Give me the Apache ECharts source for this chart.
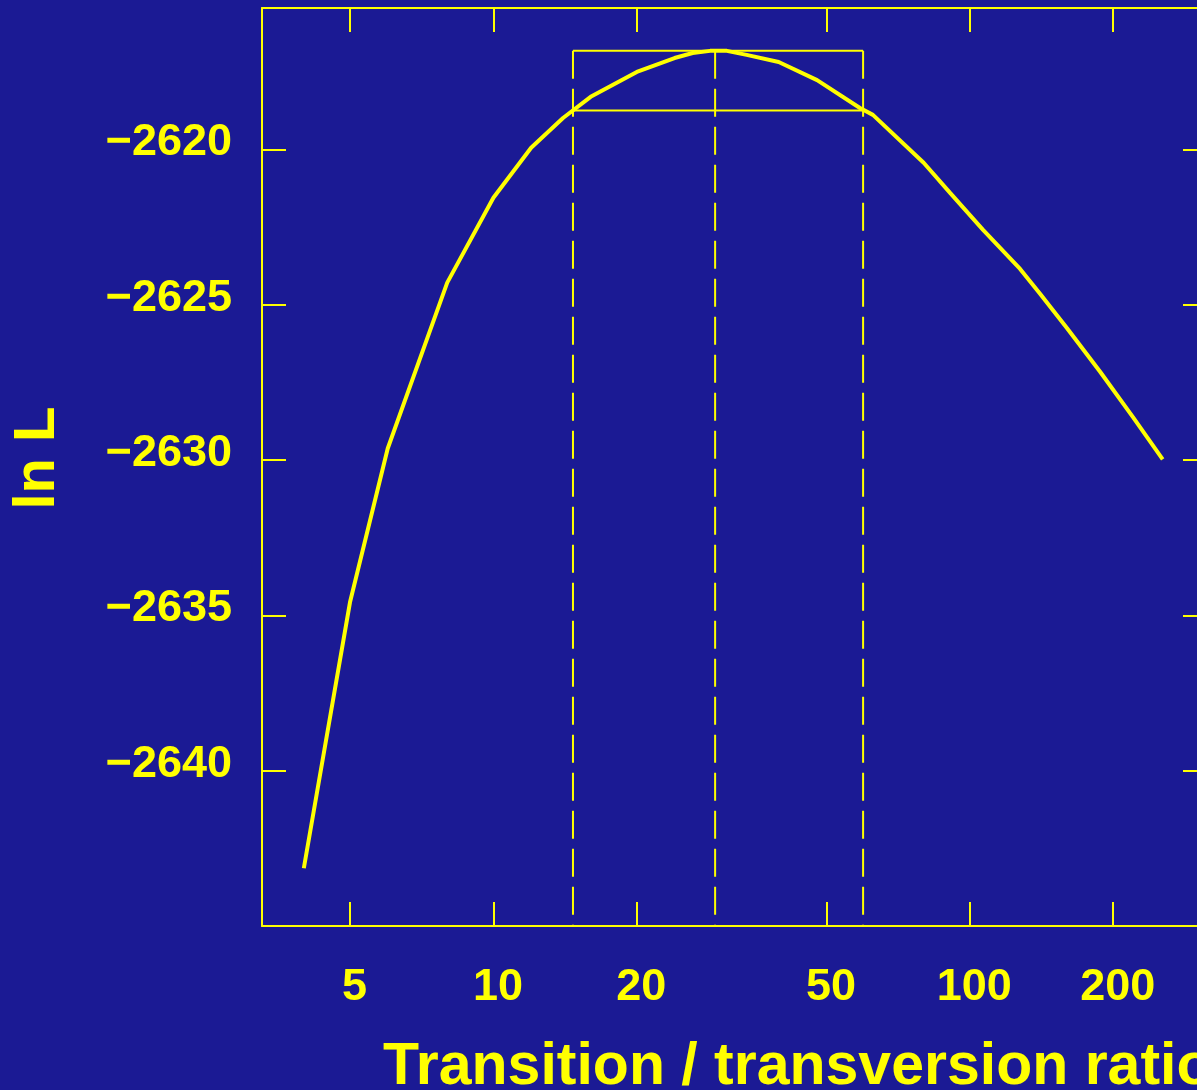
<!DOCTYPE html>
<html>
<head>
<meta charset="utf-8">
<script src="https://cdn.jsdelivr.net/npm/echarts@6/dist/echarts.min.js"></script>
<style>
html,body{margin:0;padding:0;background:#1b1a94;}
#chart{width:1197px;height:1090px;}
</style>
</head>
<body>
<div id="chart"></div>
<script>
// Transition/transversion ratio values (x) and log-likelihood (y)
const ratios = [4, 5, 6, 8, 10, 12, 14, 16, 20, 24, 26.2, 28.5, 30.9, 34, 39.7, 47.8, 58.8, 62.6, 80, 90.9, 106.6, 127.5, 140.4, 160, 187.7, 220, 254];
const lnL    = [-2643.14, -2634.58, -2629.63, -2624.29, -2621.56, -2619.95, -2618.99, -2618.31, -2617.51, -2617.06, -2616.90, -2616.83, -2616.83, -2616.96, -2617.19, -2617.77, -2618.67, -2618.89, -2620.43, -2621.40, -2622.59, -2623.85, -2624.65, -2625.76, -2627.16, -2628.62, -2629.98];
// Likelihood interval
const mleRatio = 29.2;
const ciLow = 14.69;
const ciHigh = 59.7;
const maxL = -2616.83;
const cutL = -2618.75;
// Axis ticks
const xTicks = [5, 10, 20, 50, 100, 200];
const yTicks = [-2640, -2635, -2630, -2625, -2620];
const xRange = [3.268, 299.8];
const yRange = [-2645, -2615.45];

const Y = '#ffff00';
const FONT = '"Liberation Sans", Arial, Helvetica, sans-serif';
const lg = v => Math.log10(v);
const xTickVals = xTicks.map(lg);

const chart = echarts.init(document.getElementById('chart'), null, {renderer: 'canvas'});

function seg(data, dashed, width) {
  return {
    type: 'line', data: data, symbol: 'none', silent: true, animation: false,
    lineStyle: {color: Y, width: width, type: dashed ? [28, 10] : 'solid'},
    xAxisIndex: 0, yAxisIndex: 0, z: 3
  };
}

const labelRichBase = {color: Y, fontFamily: FONT, fontWeight: 'bold', fontSize: 45};

const option = {
  backgroundColor: '#1b1a94',
  animation: false,
  grid: {left: 262, top: 8, right: 0, height: 918},
  xAxis: [{
    type: 'value', min: lg(xRange[0]), max: lg(xRange[1]), position: 'bottom',
    splitLine: {show: false},
    axisLine: {show: true, lineStyle: {color: Y, width: 2}},
    axisTick: {show: true, inside: true, length: 24, lineStyle: {color: Y, width: 2}, customValues: xTickVals},
    axisLabel: {show: true, customValues: xTickVals, color: Y, fontFamily: FONT, fontWeight: 'bold', fontSize: 45, margin: 39,
      formatter: v => '{a|' + Math.round(Math.pow(10, v)) + '}',
      rich: {a: Object.assign({padding: [0, 0, 0, 9]}, labelRichBase)}}
  }, {
    type: 'value', min: lg(xRange[0]), max: lg(xRange[1]), position: 'top',
    splitLine: {show: false},
    axisLine: {show: true, lineStyle: {color: Y, width: 2}},
    axisTick: {show: true, inside: true, length: 24, lineStyle: {color: Y, width: 2}, customValues: xTickVals},
    axisLabel: {show: false}
  }],
  yAxis: [{
    type: 'value', min: yRange[0], max: yRange[1], position: 'left',
    splitLine: {show: false},
    axisLine: {show: true, lineStyle: {color: Y, width: 2}},
    axisTick: {show: true, inside: true, length: 24, lineStyle: {color: Y, width: 2}, customValues: yTicks},
    axisLabel: {show: true, customValues: yTicks, color: Y, fontFamily: FONT, fontWeight: 'bold', fontSize: 45, margin: 30,
      formatter: v => '{a|' + String(v).replace('-', '\u2212') + '}',
      rich: {a: Object.assign({padding: [0, 0, 13, 0]}, labelRichBase)}}
  }, {
    type: 'value', min: yRange[0], max: yRange[1], position: 'right', offset: 10,
    splitLine: {show: false},
    axisLine: {show: true, lineStyle: {color: Y, width: 2}},
    axisTick: {show: true, inside: true, length: 24, lineStyle: {color: Y, width: 2}, customValues: yTicks},
    axisLabel: {show: false}
  }],
  graphic: [{
    type: 'text', left: 383, top: 1038,
    style: {text: 'Transition / transversion ratio', fill: Y, font: 'bold 59px ' + FONT}
  }, {
    type: 'text', x: 38, y: 458, rotation: Math.PI / 2,
    style: {text: 'ln L', fill: Y, font: 'bold 58px ' + FONT, align: 'center', verticalAlign: 'middle'}
  }],
  series: [
    {
      type: 'line', symbol: 'none', silent: true, animation: false, z: 5,
      lineStyle: {color: Y, width: 4},
      data: ratios.map((r, i) => [lg(r), lnL[i]])
    },
    seg([[lg(ciLow), maxL], [lg(ciHigh), maxL]], false, 2),
    seg([[lg(ciLow), cutL], [lg(ciHigh), cutL]], false, 2),
    seg([[lg(ciLow), maxL], [lg(ciLow), yRange[0]]], true, 2),
    seg([[lg(mleRatio), maxL], [lg(mleRatio), yRange[0]]], true, 2),
    seg([[lg(ciHigh), maxL], [lg(ciHigh), yRange[0]]], true, 2)
  ]
};
chart.setOption(option);
</script>
</body>
</html>
